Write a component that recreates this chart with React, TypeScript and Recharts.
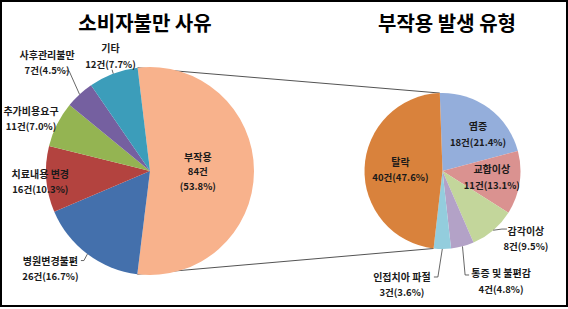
import React from 'react';
import { PieChart, Pie, Cell, Customized } from 'recharts';

// ---- data ----
const causeNames = ['부작용', '병원변경불편', '치료내용 변경', '추가비용요구', '사후관리불만', '기타'];
const causeCounts = [84, 26, 16, 11, 7, 12];
const causePercents = ['53.8%', '16.7%', '10.3%', '7.0%', '4.5%', '7.7%'];

const typeNames = ['염증', '교합이상', '감각이상', '통증 및 불편감', '인접치아 파절', '탈락'];
const typeCounts = [18, 11, 8, 4, 3, 40];
const typePercents = ['21.4%', '13.1%', '9.5%', '4.8%', '3.6%', '47.6%'];

const leftTitle = '소비자불만 사유';
const rightTitle = '부작용 발생 유형';

// ---- styles / layout ----
const W = 568;
const H = 309;
const FONT = '"Noto Sans CJK KR", "Noto Sans", sans-serif';
const leftColors = ['#F8B28C', '#4470AC', '#B3433F', '#94B452', '#7560A0', '#3C9DBA'];
const rightColors = ['#94AEDB', '#DA9290', '#C3D69B', '#B3A2C7', '#93CDDD', '#D9823C'];

const LEFT = { cx: 150, cy: 171, r: 104, start: -6.84 };
const RIGHT = { cx: 442.5, cy: 171, r: 78, start: -2 };

type Layout = { k: number; dx: number; dy: number; leader?: number[][] };
const leftLabelLayout: Layout[] = [
  { k: 0.46, dx: 0, dy: 0 },
  { k: 1, dx: -37, dy: 14, leader: [[33.5, -7.5], [30.5, -7.5]] },
  { k: 1, dx: -6, dy: 2 },
  { k: 1, dx: -26, dy: -6 },
  { k: 1, dx: -32.5, dy: -32, leader: [[22, 8.5], [19, 8.5]] },
  { k: 1, dx: -2.7, dy: -18, leader: [[1.5, 14]] },
];
const rightLabelLayout: Layout[] = [
  { k: 0.62, dx: 6.7, dy: 1.4 },
  { k: 0.64, dx: 0, dy: -2 },
  { k: 1, dx: 32.7, dy: 7.8, leader: [[-24, -9], [-19, -9]] },
  { k: 1, dx: 38.6, dy: 34.6, leader: [[-36, -6], [-32, -6]] },
  { k: 1, dx: -40.4, dy: 35.5, leader: [[36, -7.5], [32, -7.5]] },
  { k: 0.54, dx: 0, dy: 0 },
];

const leftData = causeNames.map((name, i) => ({ name, value: causeCounts[i], pct: causePercents[i] }));
const rightData = typeNames.map((name, i) => ({ name, value: typeCounts[i], pct: typePercents[i] }));

const RAD = Math.PI / 180;
// clockwise-from-top angle -> point
const pt = (cx: number, cy: number, r: number, a: number) => [cx + r * Math.sin(a * RAD), cy - r * Math.cos(a * RAD)];

const LABEL_FS = 9.5;
const LINE_COLOR = '#404040';

const makeLabel = (layout: Layout[], threeLineFirst: boolean) => (props: any) => {
  const { cx, cy, outerRadius, midAngle, index, payload } = props;
  const lay = layout[index];
  const a = 90 - midAngle;
  const [px, py] = pt(cx, cy, outerRadius * lay.k, a);
  const bx = px + lay.dx;
  const by = py + lay.dy;
  const [ex, ey] = pt(cx, cy, outerRadius, a);
  const name = payload.name;
  const value = payload.value;
  const pctText = payload.pct;
  const lines =
    threeLineFirst && index === 0
      ? [name, `${value}건`, `(${pctText})`]
      : [name, `${value}건(${pctText})`];
  const step = lines.length === 3 ? 15 : 16;
  const y0 = by - ((lines.length - 1) * step) / 2;
  let leaderPts = '';
  if (lay.leader) {
    leaderPts = [[ex, ey], ...lay.leader.map(([lx, ly]) => [bx + lx, by + ly])]
      .map((p) => p.join(','))
      .join(' ');
  }
  return (
    <g>
      {lay.leader && <polyline points={leaderPts} fill="none" stroke={LINE_COLOR} strokeWidth={0.8} />}
      {lines.map((t, i) => (
        <text
          key={i}
          x={bx}
          y={y0 + i * step}
          textAnchor="middle"
          dominantBaseline="central"
          fontFamily={FONT}
          fontSize={i === 0 ? LABEL_FS + 0.5 : LABEL_FS}
          fontWeight="bold"
          fill="#1a1a1a"
        >
          {t}
        </text>
      ))}
    </g>
  );
};

const leftTotal = causeCounts.reduce((s, v) => s + v, 0);
const rightTotal = typeCounts.reduce((s, v) => s + v, 0);

const Decorations = () => {
  // connector lines: from the split slice (first of left data) edges to the right pie's edge of its last slice
  const splitSweep = (causeCounts[0] / leftTotal) * 360;
  const lastSweep = (typeCounts[typeCounts.length - 1] / rightTotal) * 360;
  const [l1x, l1y] = pt(LEFT.cx, LEFT.cy, LEFT.r, LEFT.start);
  const [l2x, l2y] = pt(LEFT.cx, LEFT.cy, LEFT.r, LEFT.start + splitSweep);
  const [r1x, r1y] = pt(RIGHT.cx, RIGHT.cy, RIGHT.r, RIGHT.start);
  const [r2x, r2y] = pt(RIGHT.cx, RIGHT.cy, RIGHT.r, RIGHT.start - lastSweep);
  return (
    <g>
      <line x1={l1x} y1={l1y} x2={r1x} y2={r1y} stroke={LINE_COLOR} strokeWidth={0.9} />
      <line x1={l2x} y1={l2y} x2={r2x} y2={r2y} stroke={LINE_COLOR} strokeWidth={0.9} />
      <text x={145} y={22} textAnchor="middle" dominantBaseline="central" fontFamily={FONT} fontSize={20} fontWeight="bold" fill="#000">
        {leftTitle}
      </text>
      <text x={447} y={22} textAnchor="middle" dominantBaseline="central" fontFamily={FONT} fontSize={20} fontWeight="bold" fill="#000">
        {rightTitle}
      </text>
      <rect x={1} y={1} width={566} height={305} fill="none" stroke="#000" strokeWidth={2} />
    </g>
  );
};

export default function App() {
  return (
    <div style={{ position: 'absolute', left: 0, top: 0, width: W, height: H, background: '#fff' }}>
      <PieChart width={W} height={H} margin={{ top: 0, right: 0, bottom: 0, left: 0 }}>
        <Pie
          data={leftData}
          dataKey="value"
          nameKey="name"
          cx={LEFT.cx}
          cy={LEFT.cy}
          outerRadius={LEFT.r}
          startAngle={90 - LEFT.start}
          endAngle={90 - LEFT.start - 360}
          stroke="none"
          isAnimationActive={false}
          labelLine={false}
          label={makeLabel(leftLabelLayout, true)}
        >
          {leftData.map((d, i) => (
            <Cell key={d.name} fill={leftColors[i]} />
          ))}
        </Pie>
        <Pie
          data={rightData}
          dataKey="value"
          nameKey="name"
          cx={RIGHT.cx}
          cy={RIGHT.cy}
          outerRadius={RIGHT.r}
          startAngle={90 - RIGHT.start}
          endAngle={90 - RIGHT.start - 360}
          stroke="none"
          isAnimationActive={false}
          labelLine={false}
          label={makeLabel(rightLabelLayout, false)}
        >
          {rightData.map((d, i) => (
            <Cell key={d.name} fill={rightColors[i]} />
          ))}
        </Pie>
        <Customized component={Decorations} />
      </PieChart>
    </div>
  );
}
